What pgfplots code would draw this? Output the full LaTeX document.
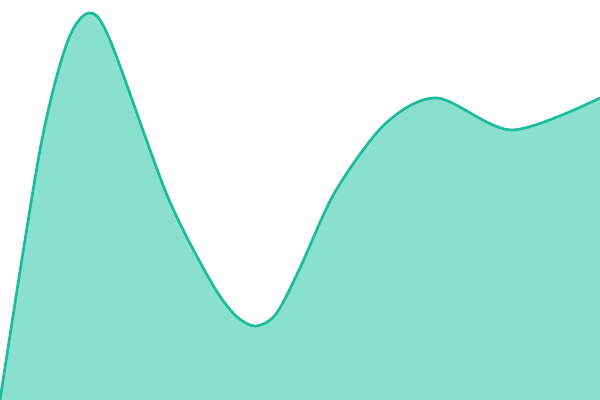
\documentclass[border=0pt]{standalone}
\usepackage{pgfplots}
\pgfplotsset{compat=1.18}
\definecolor{teal1}{HTML}{1ABC9C}
\definecolor{tealfill}{HTML}{8AE0CF}
\begin{document}
\begin{tikzpicture}
\pgfplotstableread{
x y
0 0
40 250
67 357
89 387
110 360
167 205
210 120
234 86
255 74
276 86
300 132
335 208
385 276
437 302
512 270
600 302
}\curve
\begin{axis}[
    width=15cm, height=10cm,
    scale only axis,
    hide axis,
    xmin=0, xmax=600,
    ymin=0, ymax=400,
    clip=true,
]
\path[use as bounding box] (rel axis cs:0,0) rectangle (rel axis cs:1,1);
\addplot[smooth, draw=none, fill=tealfill] table {\curve} \closedcycle;
\addplot[smooth, draw=teal1, line width=1.9pt] table {\curve};
\end{axis}
\end{tikzpicture}
\end{document}
